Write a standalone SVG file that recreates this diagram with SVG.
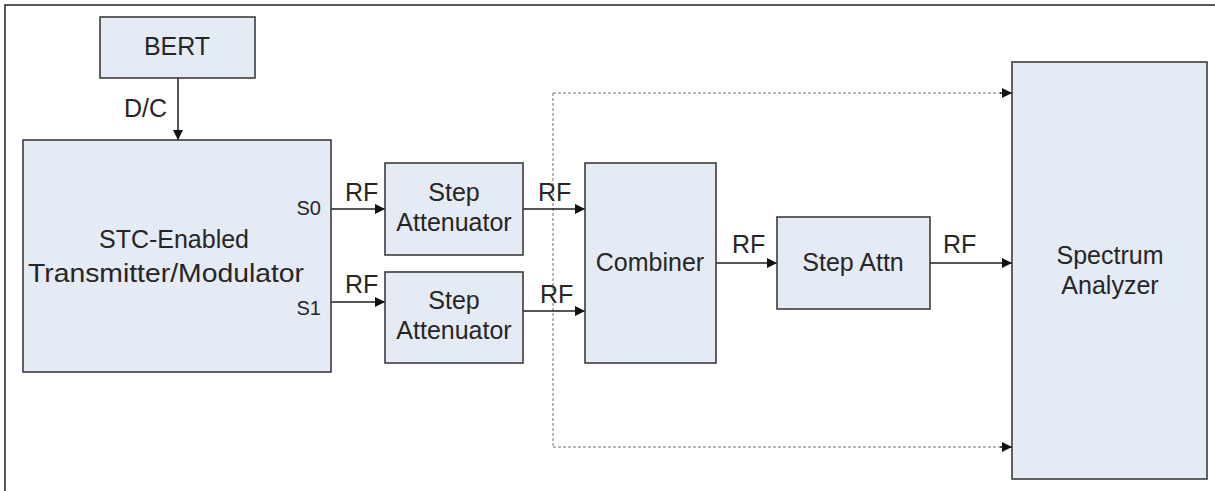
<svg xmlns="http://www.w3.org/2000/svg" width="1215" height="491" viewBox="0 0 1215 491">
<defs>
<style>
.box{fill:#e5ebf5;stroke:#3c3c3c;stroke-width:1.6}
.t{font-family:"Liberation Sans",Arial,sans-serif;font-size:25px;fill:#262626}
.c{text-anchor:middle}
.s{font-size:20px}
.w{stroke:#1e1e1e;stroke-width:1.5;fill:none}
.d{stroke:#a0a0a0;stroke-width:1.5;fill:none;stroke-dasharray:3 2}
</style>
<marker id="ah" viewBox="0 0 10 10" refX="10" refY="5" markerWidth="11" markerHeight="10" markerUnits="userSpaceOnUse" orient="auto">
<path d="M0,0 L10,5 L0,10 z" fill="#111"/>
</marker>
</defs>
<rect x="0" y="0" width="1215" height="491" fill="#fff"/>
<rect x="5" y="5" width="1220" height="500" fill="none" stroke="#222" stroke-width="1.5"/>

<g id="connectors">
<path class="d" d="M553,93 H1003"/>
<path class="d" d="M553,447 H1003"/>
<path class="d" d="M553,93 V447"/>
<path class="w" d="M1000,93 H1012" marker-end="url(#ah)"/>
<path class="w" d="M1000,447 H1012" marker-end="url(#ah)"/>
<path class="w" d="M178,78 V140" marker-end="url(#ah)"/>
<path class="w" d="M331,209 H385" marker-end="url(#ah)"/>
<path class="w" d="M331,302 H385" marker-end="url(#ah)"/>
<path class="w" d="M523,209 H585" marker-end="url(#ah)"/>
<path class="w" d="M523,311 H585" marker-end="url(#ah)"/>
<path class="w" d="M716,263 H777" marker-end="url(#ah)"/>
<path class="w" d="M930,263 H1012" marker-end="url(#ah)"/>
<text class="t" x="124" y="117">D/C</text>
<text class="t" x="345" y="201">RF</text>
<text class="t" x="345" y="293">RF</text>
<text class="t" x="538" y="201">RF</text>
<text class="t" x="540" y="303">RF</text>
<text class="t" x="732" y="253">RF</text>
<text class="t" x="943" y="253">RF</text>
</g>

<g id="bert">
<rect class="box" x="100" y="17" width="155" height="61"/>
<text class="t c" x="177" y="55">BERT</text>
</g>

<g id="transmitter">
<rect class="box" x="23" y="140" width="308" height="232"/>
<text class="t c" x="174" y="248">STC-Enabled</text>
<text class="t c" x="166" y="282" textLength="276" lengthAdjust="spacingAndGlyphs">Transmitter/Modulator</text>
<text class="t s" x="321" y="215" text-anchor="end">S0</text>
<text class="t s" x="321" y="315" text-anchor="end">S1</text>
</g>

<g id="step-attenuator-1">
<rect class="box" x="385" y="163" width="138" height="92"/>
<text class="t c" x="454" y="201">Step</text>
<text class="t c" x="454" y="231">Attenuator</text>
</g>

<g id="step-attenuator-2">
<rect class="box" x="385" y="272" width="138" height="91"/>
<text class="t c" x="454" y="309">Step</text>
<text class="t c" x="454" y="339">Attenuator</text>
</g>

<g id="combiner">
<rect class="box" x="585" y="163" width="131" height="200"/>
<text class="t c" x="650" y="271">Combiner</text>
</g>

<g id="step-attn">
<rect class="box" x="777" y="217" width="153" height="92"/>
<text class="t c" x="853" y="271">Step Attn</text>
</g>

<g id="spectrum-analyzer">
<rect class="box" x="1012" y="62" width="195" height="417"/>
<text class="t c" x="1110" y="264">Spectrum</text>
<text class="t c" x="1110" y="294">Analyzer</text>
</g>
</svg>
